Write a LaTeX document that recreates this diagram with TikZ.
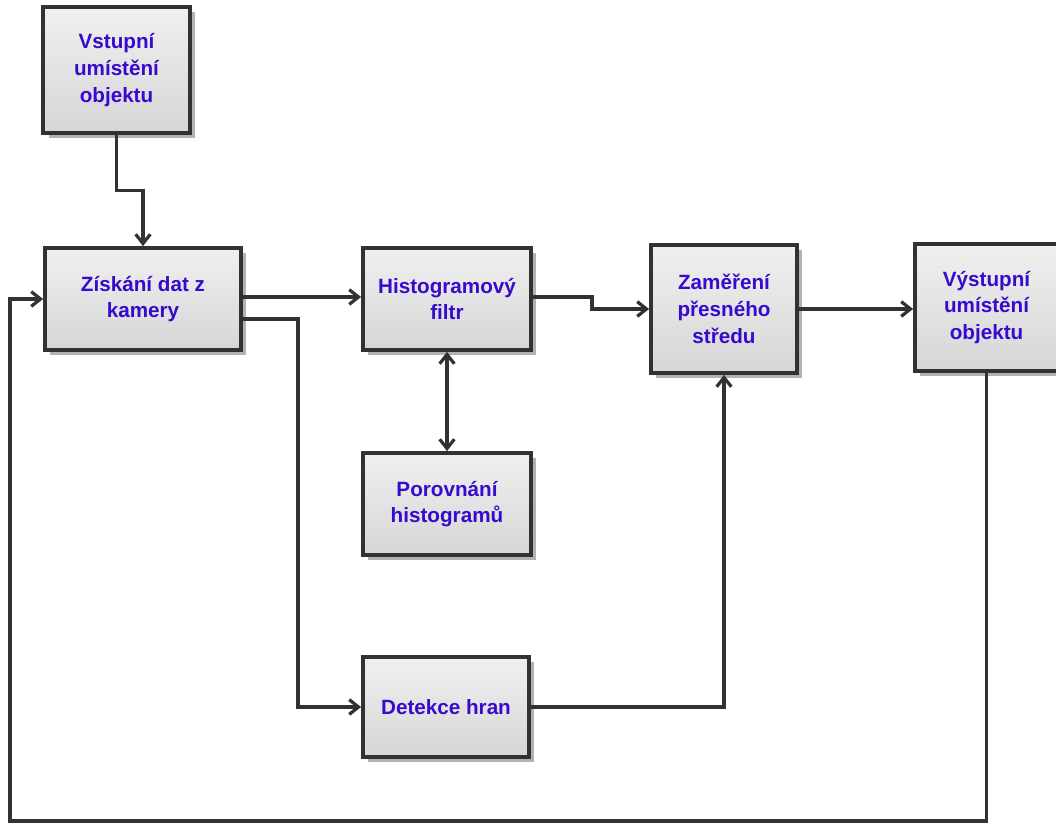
\documentclass[tikz,border=0pt]{standalone}
\usepackage{fontspec}
\setmainfont{Liberation Sans}
\usetikzlibrary{arrows.meta,shadows,calc}
\definecolor{txtblue}{RGB}{55,10,205}
\definecolor{linegray}{RGB}{50,50,50}
\definecolor{shadowgray}{RGB}{178,178,178}
\tikzset{
  blk/.style={draw=linegray, line width=2.8pt, top color=gray!12, bottom color=gray!32,
    drop shadow={shadow xshift=4pt, shadow yshift=-4pt, fill=shadowgray, opacity=1},
    align=center, text=txtblue, inner sep=2pt,
    font=\fontsize{15.5}{20}\selectfont\bfseries},
  tip/.tip={Straight Barb[length=7pt,width=11pt,line width=2.4pt]},
  conn/.style={draw=linegray, line width=2.5pt, -tip},
}
\begin{document}
\begin{tikzpicture}[x=0.75pt,y=-0.75pt]
\useasboundingbox (0,0) rectangle (1056,825);
\clip (0,0) rectangle (1056,825);
\node[blk, minimum width=110pt, minimum height=94.5pt] (A) at (116.5,70) {Vstupní\\umístění\\objektu};
\node[blk, minimum width=147pt, minimum height=76.5pt] (B) at (143,299) {Získání dat z\\kamery};
\node[blk, minimum width=126pt, minimum height=76.5pt] (C) at (447,299) {Histogramový\\filtr};
\node[blk, minimum width=109.5pt, minimum height=96pt] (D) at (724,309) {Zaměření\\přesného\\středu};
\node[blk, minimum width=107.25pt, minimum height=95.25pt] (E) at (986.5,307.5) {Výstupní\\umístění\\objektu};
\node[blk, minimum width=126pt, minimum height=76.5pt] (F) at (447,504) {Porovnání\\histogramů};
\node[blk, minimum width=124.5pt, minimum height=75pt] (G) at (446,707) {Detekce hran};
\coordinate (bl) at (10,821);
\draw[conn] (A.south) |- ($(A.south)!0.5!(B.north)$) -| (B.north);
\draw[conn] ($(B.east)+(0,-2)$) -- ($(C.west)+(0,-2)$);
\draw[conn] ($(B.east)+(0,20)$) -| ($(G.west)+(-63,0)$) -- (G.west);
\draw[conn] ($(C.east)+(0,-2)$) -- ++(59,0) |- (D.west);
\draw[conn, tip-tip] (C.south) -- (F.north);
\draw[conn] (G.east) -| (D.south);
\draw[conn] (D.east) -- (D.east -| E.west);
\draw[conn] (E.south) |- (bl) |- (B.west);
\end{tikzpicture}
\end{document}
